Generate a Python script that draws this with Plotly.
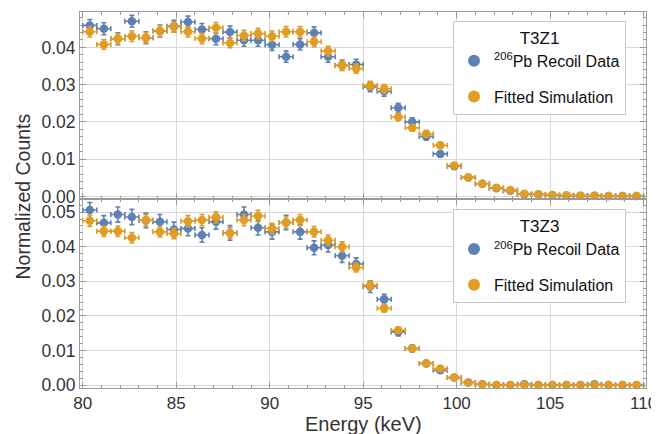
import plotly.graph_objects as go

# ---------------- data ----------------
energy = [80.375, 81.125, 81.875, 82.625, 83.375, 84.125, 84.875, 85.625, 86.375, 87.125,
          87.875, 88.625, 89.375, 90.125, 90.875, 91.625, 92.375, 93.125, 93.875, 94.625,
          95.375, 96.125, 96.875, 97.625, 98.375, 99.125, 99.875, 100.625, 101.375, 102.125,
          102.875, 103.625, 104.375, 105.125, 105.875, 106.625, 107.375, 108.125, 108.875, 109.625]
bin_half_width = 0.375

t3z1_data = [0.0459, 0.0450, 0.0423, 0.0470, 0.0426, 0.0444, 0.0457, 0.0468, 0.0448, 0.0423,
             0.0441, 0.0419, 0.0419, 0.0407, 0.0375, 0.0408, 0.0439, 0.0375, 0.0352, 0.0354,
             0.0294, 0.0282, 0.0238, 0.0200, 0.0161, 0.0114, 0.0081, 0.0051, 0.0034, 0.0022,
             0.0015, 0.0006, 0.0005, 0.0003, 0.0002, 0.0002, 0.0002, 0.0001, 0.0001, 0.0001]
t3z1_data_err = [0.0016, 0.0016, 0.0016, 0.0016, 0.0016, 0.0016, 0.0016, 0.0016, 0.0016, 0.0016,
                 0.0016, 0.0016, 0.0016, 0.0015, 0.0015, 0.0015, 0.0016, 0.0015, 0.0014, 0.0014,
                 0.0013, 0.0013, 0.0012, 0.0011, 0.0010, 0.0008, 0.0007, 0.0005, 0.0004, 0.0003,
                 0.0003, 0.0002, 0.0002, 0.0001, 0.0001, 0.0001, 0.0001, 0.0001, 0.0001, 0.0001]
t3z1_sim = [0.0442, 0.0408, 0.0423, 0.0430, 0.0426, 0.0444, 0.0455, 0.0442, 0.0424, 0.0453,
            0.0412, 0.0432, 0.0437, 0.0430, 0.0442, 0.0442, 0.0415, 0.0390, 0.0351, 0.0343,
            0.0298, 0.0289, 0.0213, 0.0184, 0.0168, 0.0137, 0.0083, 0.0051, 0.0034, 0.0023,
            0.0017, 0.0007, 0.0006, 0.0004, 0.0003, 0.0002, 0.0002, 0.0001, 0.0001, 0.0001]
t3z1_sim_err = [0.0014, 0.0013, 0.0014, 0.0014, 0.0014, 0.0014, 0.0014, 0.0014, 0.0014, 0.0014,
                0.0013, 0.0014, 0.0014, 0.0014, 0.0014, 0.0014, 0.0013, 0.0013, 0.0012, 0.0012,
                0.0011, 0.0011, 0.0010, 0.0009, 0.0009, 0.0008, 0.0006, 0.0005, 0.0004, 0.0003,
                0.0002, 0.0002, 0.0001, 0.0001, 0.0001, 0.0001, 0.0001, 0.0001, 0.0001, 0.0001]

t3z3_data = [0.0506, 0.0469, 0.0493, 0.0486, 0.0476, 0.0472, 0.0450, 0.0453, 0.0434, 0.0472,
             0.0440, 0.0493, 0.0455, 0.0443, 0.0470, 0.0443, 0.0397, 0.0405, 0.0374, 0.0350,
             0.0285, 0.0248, 0.0154, 0.0106, 0.0063, 0.0043, 0.0022, 0.0008, 0.0003, 0.0001,
             0.0001, 0.0003, 0.0001, 0.0001, 0.0001, 0.0001, 0.0003, 0.0001, 0.0001, 0.0001]
t3z3_data_err = [0.0022, 0.0021, 0.0022, 0.0022, 0.0021, 0.0021, 0.0021, 0.0021, 0.0021, 0.0021,
                 0.0021, 0.0022, 0.0021, 0.0021, 0.0021, 0.0021, 0.0020, 0.0020, 0.0019, 0.0018,
                 0.0017, 0.0015, 0.0012, 0.0010, 0.0008, 0.0006, 0.0005, 0.0003, 0.0002, 0.0001,
                 0.0001, 0.0002, 0.0001, 0.0001, 0.0001, 0.0001, 0.0002, 0.0001, 0.0001, 0.0001]
t3z3_sim = [0.0475, 0.0445, 0.0445, 0.0426, 0.0477, 0.0443, 0.0438, 0.0474, 0.0477, 0.0485,
            0.0440, 0.0477, 0.0489, 0.0453, 0.0470, 0.0477, 0.0443, 0.0419, 0.0400, 0.0340,
            0.0289, 0.0222, 0.0159, 0.0106, 0.0063, 0.0048, 0.0022, 0.0008, 0.0003, 0.0001,
            0.0001, 0.0001, 0.0001, 0.0001, 0.0001, 0.0001, 0.0001, 0.0001, 0.0001, 0.0001]
t3z3_sim_err = [0.0016, 0.0015, 0.0015, 0.0015, 0.0016, 0.0015, 0.0015, 0.0016, 0.0016, 0.0016,
                0.0015, 0.0016, 0.0016, 0.0015, 0.0016, 0.0016, 0.0015, 0.0015, 0.0014, 0.0013,
                0.0012, 0.0011, 0.0009, 0.0008, 0.0006, 0.0005, 0.0003, 0.0002, 0.0001, 0.0001,
                0.0001, 0.0001, 0.0001, 0.0001, 0.0001, 0.0001, 0.0001, 0.0001, 0.0001, 0.0001]

panel_titles = ["T3Z1", "T3Z3"]
series_names = ["<sup>206</sup>Pb Recoil Data", "Fitted Simulation"]
x_ticks = [80, 85, 90, 95, 100, 105, 110]
y_ticks_top = [0.00, 0.01, 0.02, 0.03, 0.04]
y_ticks_bottom = [0.00, 0.01, 0.02, 0.03, 0.04, 0.05]

# ---------------- styling ----------------
BLUE = "#5E81B5"
ORANGE = "#E19C24"
FRAME = "#9a9a9a"
GRID = "#d9d9d9"
TEXT = "#333333"
FONT = "Liberation Sans, Arial, sans-serif"

fig = go.Figure()


def add_series(y, err, color, name, xa, ya, legend):
    fig.add_trace(go.Scatter(
        x=energy, y=y, mode="markers", name=name,
        xaxis=xa, yaxis=ya, legend=legend, legendgroup=legend + name,
        marker=dict(color=color, size=8.5, line=dict(width=0)),
        error_x=dict(type="constant", value=bin_half_width, color=color, thickness=1.6, width=2.5),
        error_y=dict(type="data", array=err, color=color, thickness=1.6, width=2.5),
        cliponaxis=False,
    ))


add_series(t3z1_data, t3z1_data_err, BLUE, series_names[0], "x", "y", "legend")
add_series(t3z1_sim, t3z1_sim_err, ORANGE, series_names[1], "x", "y", "legend")
add_series(t3z3_data, t3z3_data_err, BLUE, series_names[0], "x2", "y2", "legend2")
add_series(t3z3_sim, t3z3_sim_err, ORANGE, series_names[1], "x2", "y2", "legend2")

split = 0.5027

xcommon = dict(range=[79.85, 110.13], tickvals=x_ticks, ticks="inside", ticklen=6, tickwidth=1,
               tickcolor=FRAME, showline=True, linecolor=FRAME, linewidth=1, mirror="ticks",
               showgrid=True, gridcolor=GRID, gridwidth=1, zeroline=False, automargin=False,
               minor=dict(dtick=1, ticks="inside", ticklen=3, tickcolor=FRAME, showgrid=False),
               tickfont=dict(family=FONT, size=17, color=TEXT))
ycommon = dict(ticks="inside", ticklen=6, tickwidth=1, tickcolor=FRAME, showline=True,
               linecolor=FRAME, linewidth=1, mirror="ticks", showgrid=True, gridcolor=GRID,
               gridwidth=1, zeroline=False, tickformat=".2f", automargin=False,
               minor=dict(dtick=0.002, ticks="inside", ticklen=3, tickcolor=FRAME, showgrid=False),
               tickfont=dict(family=FONT, size=17.5, color=TEXT))

legend_common = dict(
    xref="paper", yref="paper", xanchor="right", yanchor="top",
    bgcolor="white", bordercolor="#c8c8c8", borderwidth=1,
    font=dict(family=FONT, size=16, color="#111111"),
    tracegroupgap=12, itemsizing="constant",
)

# The page body adds an 8px offset, so the figure is sized to fill the rest of the window.
fig.update_layout(
    width=651, height=426,
    margin=dict(l=71.5, r=13, t=4, b=46, autoexpand=False),
    paper_bgcolor="white", plot_bgcolor="white",
    showlegend=True,
    xaxis=dict(xcommon, domain=[0, 1], anchor="y", matches="x2", showticklabels=False),
    yaxis=dict(ycommon, domain=[split, 1], anchor="x", range=[-0.0007, 0.0495],
               tickvals=y_ticks_top),
    xaxis2=dict(xcommon, domain=[0, 1], anchor="y2"),
    yaxis2=dict(ycommon, domain=[0, split], anchor="x2", range=[-0.0008, 0.0538],
                tickvals=y_ticks_bottom),
    legend=dict(legend_common, x=0.9647, y=0.977,
                title=dict(text=panel_titles[0], side="top center",
                           font=dict(family=FONT, size=17, color="#111111"))),
    legend2=dict(legend_common, x=0.9647, y=0.476,
                 title=dict(text=panel_titles[1], side="top center",
                            font=dict(family=FONT, size=17, color="#111111"))),
    annotations=[
        dict(text="Normalized Counts", textangle=-90, xref="paper", yref="paper",
             x=-0.1015, y=0.508, xanchor="center", yanchor="middle", showarrow=False,
             font=dict(family=FONT, size=19.5, color=TEXT)),
        dict(text="Energy (keV)", xref="paper", yref="paper", x=0.5, y=-0.096,
             xanchor="center", yanchor="middle", showarrow=False,
             font=dict(family=FONT, size=20, color=TEXT)),
    ],
)

fig.write_html("out.html")
